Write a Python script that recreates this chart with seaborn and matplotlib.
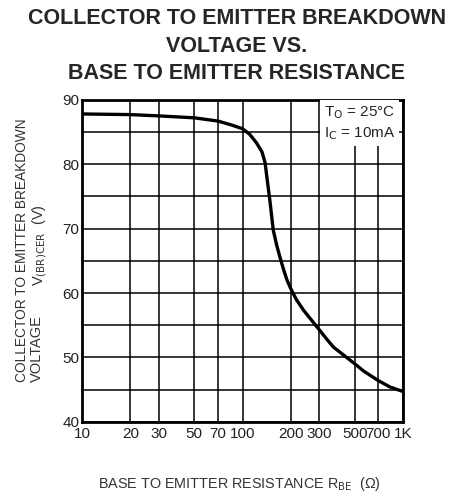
import numpy as np
import pandas as pd
import matplotlib
matplotlib.use('Agg')
import matplotlib.pyplot as plt
import matplotlib.ticker as mticker
import seaborn as sns

# Wartości
r_be = [10, 20, 30, 50, 70, 85, 100, 111, 122, 132, 138, 141, 148, 155, 163,
        171, 180, 189, 200, 217, 240, 300, 335, 368, 500, 566, 700, 830, 1000]
v_br = [87.8, 87.7, 87.5, 87.2, 86.7, 86.1, 85.5, 84.6, 83.3, 81.9, 80.2, 78.3,
        74.2, 69.8, 67.4, 65.5, 63.6, 62.0, 60.6, 58.9, 57.3, 54.3, 52.8, 51.6,
        49.0, 47.9, 46.4, 45.4, 44.7]

x_ticks = [10, 20, 30, 50, 70, 100, 200, 300, 500, 700, 1000]
x_labels = ['10', '20', '30', '50', '70', '100', '200', '300', '500', '700', '1K']
y_ticks = [40, 50, 60, 70, 80, 90]
y_minor = [45, 55, 65, 75, 85]

sns.set_style('white')
plt.rcParams['font.family'] = ['Liberation Sans', 'DejaVu Sans']

df = pd.DataFrame({'R': r_be, 'V': v_br})

fig = plt.figure(figsize=(4.64, 4.94), dpi=100)
ax = fig.add_axes([0.177, 0.146, 0.692, 0.652])

sns.lineplot(data=df, x='R', y='V', ax=ax, color='black', linewidth=2.4, zorder=5)

ax.set_xscale('log')
ax.set_xlim(10, 1000)
ax.set_ylim(40, 90)
ax.xaxis.set_major_locator(mticker.FixedLocator(x_ticks))
ax.xaxis.set_minor_locator(mticker.NullLocator())
ax.set_xticks(x_ticks)
ax.set_xticklabels(x_labels)
ax.set_yticks(y_ticks)
ax.set_yticks(y_minor, minor=True)
ax.grid(True, which='both', color='black', linewidth=1.1)
ax.set_axisbelow(True)
ax.tick_params(which='both', length=0, labelsize=11, colors='#222222')
ax.tick_params(axis='x', pad=4)
ax.tick_params(axis='y', pad=2)
for s in ax.spines.values():
    s.set_visible(True)
    s.set_color('black')
    s.set_linewidth(2)
ax.set_xlabel('')
ax.set_ylabel('')

# ramka z warunkami pomiaru
ax.text(0.975, 0.985, 'T$_\\mathrm{O}$ = 25°C\nI$_\\mathrm{C}$ = 10mA', transform=ax.transAxes,
        ha='right', va='top', fontsize=11, linespacing=1.3, zorder=6,
        bbox=dict(facecolor='white', edgecolor='none', pad=3))

for txt, yy in [('COLLECTOR TO EMITTER BREAKDOWN', 0.963),
                ('VOLTAGE VS.', 0.905),
                ('BASE TO EMITTER RESISTANCE', 0.852)]:
    fig.text(0.51, yy, txt, ha='center', va='center', fontsize=15.5, fontweight='bold')

fig.text(0.047, 0.494, 'COLLECTOR TO EMITTER BREAKDOWN', rotation=90, ha='center',
         va='center', fontsize=9.9, color='#333333')
fig.text(0.080, 0.227, 'VOLTAGE', rotation=90, ha='center', va='bottom',
         fontsize=10.5, color='#333333')
fig.text(0.086, 0.504, 'V$_\\mathrm{(BR)CER}$  (V)', rotation=90, ha='center',
         va='center', fontsize=10.5, color='#333333')

fig.text(0.517, 0.020, 'BASE TO EMITTER RESISTANCE R$_\\mathrm{BE}$  (Ω)', ha='center',
         va='center', fontsize=10.4, color='#333333')

fig.savefig('out.png', dpi=100, facecolor='white')
